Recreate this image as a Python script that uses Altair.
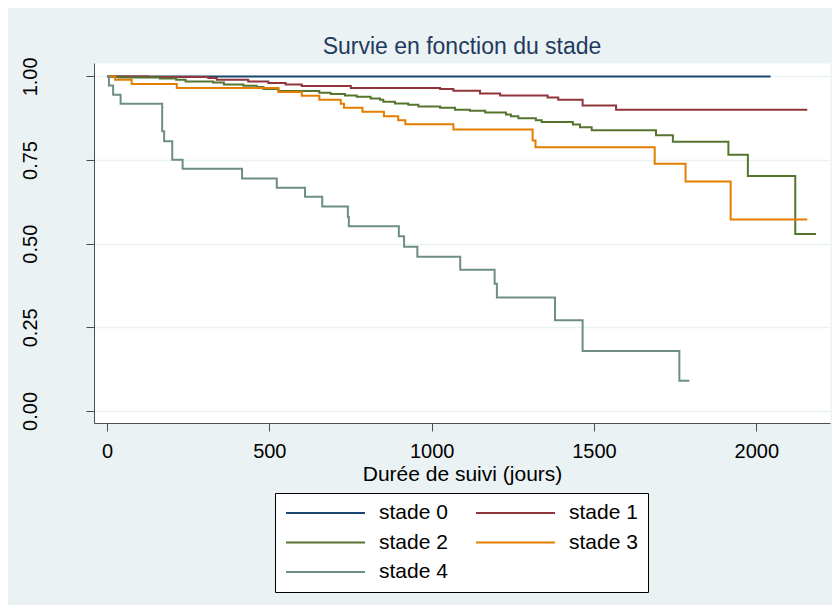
import altair as alt
import pandas as pd

# ---- data (time in days, survival probability) ----
stades = ["stade 0", "stade 1", "stade 2", "stade 3", "stade 4"]
colors = ["#1A476F", "#90353B", "#55752F", "#E37E00", "#6E8E84"]

s0_t = []
s0_s = []
s0_end = 2044

s1_t = [127, 312, 338, 435, 497, 550, 600, 751, 1026, 1067, 1149, 1211, 1357, 1390, 1465, 1568]
s1_s = [0.998, 0.995, 0.990, 0.985, 0.980, 0.976, 0.971, 0.965, 0.962, 0.957, 0.949, 0.943, 0.937, 0.930, 0.913, 0.900]
s1_end = 2157

s2_t = [35, 163, 213, 242, 327, 360, 420, 461, 482, 528,
        654, 689, 733, 769, 812, 841, 851, 887, 928, 959,
        1026, 1072, 1118, 1165, 1229, 1244, 1267, 1321, 1339, 1435,
        1457, 1493, 1691, 1743, 1914, 1974, 2120]
s2_s = [0.997, 0.994, 0.990, 0.985, 0.982, 0.976, 0.972, 0.968, 0.962, 0.956,
        0.951, 0.947, 0.943, 0.939, 0.934, 0.930, 0.924, 0.919, 0.915, 0.910,
        0.906, 0.900, 0.897, 0.892, 0.886, 0.881, 0.875, 0.869, 0.864, 0.856,
        0.848, 0.839, 0.824, 0.805, 0.766, 0.702, 0.529]
s2_end = 2184

s3_t = [25, 76, 215, 528, 600, 654, 720, 730, 787, 853, 897, 919, 1067, 1311, 1320, 1687, 1782, 1921]
s3_s = [0.990, 0.977, 0.965, 0.953, 0.942, 0.930, 0.918, 0.906, 0.894, 0.881, 0.869, 0.857, 0.841, 0.808, 0.788, 0.739, 0.686, 0.572]
s3_end = 2157

s4_t = [6, 19, 42, 170, 176, 201, 233, 416, 523, 610, 663, 742, 745, 899, 915, 956, 1088, 1194, 1201, 1380, 1465, 1763]
s4_s = [0.973, 0.945, 0.918, 0.836, 0.806, 0.751, 0.724, 0.695, 0.667, 0.640, 0.611, 0.580, 0.552, 0.522, 0.491, 0.461, 0.422, 0.380, 0.339, 0.271, 0.179, 0.0906]
s4_end = 1794

x_ticks = [0, 500, 1000, 1500, 2000]
y_ticks = [0, 0.25, 0.5, 0.75, 1.0]

series = [
    ("stade 0", s0_t, s0_s, s0_end),
    ("stade 1", s1_t, s1_s, s1_end),
    ("stade 2", s2_t, s2_s, s2_end),
    ("stade 3", s3_t, s3_s, s3_end),
    ("stade 4", s4_t, s4_s, s4_end),
]

rows = []
for name, ts, ss, end in series:
    k = 0
    rows.append({"stade": name, "t": 0, "s": 1.0, "k": k})
    for t, s in zip(ts, ss):
        k += 1
        rows.append({"stade": name, "t": t, "s": s, "k": k})
    k += 1
    rows.append({"stade": name, "t": end, "s": ss[-1] if ss else 1.0, "k": k})
df = pd.DataFrame(rows)

FONT = "Liberation Sans"

chart = alt.Chart(df).mark_line(interpolate="step-after", strokeWidth=2).encode(
    x=alt.X(
        "t:Q",
        scale=alt.Scale(domain=[-40, 2227], nice=False, zero=False),
        axis=alt.Axis(
            values=x_ticks, format="d", grid=False,
            title="Durée de suivi (jours)",
            titleFont=FONT, titleFontSize=21, titleFontWeight="normal", titleColor="#000000",
            titlePadding=2,
            labelFont=FONT, labelFontSize=20, labelColor="#000000", labelPadding=10,
            tickSize=8, tickColor="#4d4d4d", domainColor="#4d4d4d",
        ),
    ),
    y=alt.Y(
        "s:Q",
        scale=alt.Scale(domain=[-0.036, 1.04], nice=False, zero=False),
        axis=alt.Axis(
            values=y_ticks, format=".2f", grid=True, gridColor="#EAF2F3", gridWidth=1.5,
            title=None,
            labelFont=FONT, labelFontSize=20, labelColor="#000000",
            labelAngle=270, labelAlign="center", labelBaseline="alphabetic", labelPadding=50,
            tickSize=8, tickColor="#4d4d4d", domainColor="#4d4d4d",
        ),
    ),
    color=alt.Color(
        "stade:N",
        title=None,
        scale=alt.Scale(domain=stades, range=colors),
        legend=alt.Legend(
            orient="none", legendX=181, legendY=430, direction="horizontal",
            columns=2, columnPadding=27, rowPadding=8.5,
            symbolType="stroke", symbolSize=6241, symbolStrokeWidth=2,
            clipHeight=20, labelOffset=13, symbolOffset=0,
            labelFont=FONT, labelFontSize=21, labelColor="#000000",
            fillColor="white", strokeColor="#000000", padding=10, cornerRadius=0,
        ),
    ),
    order="k:Q",
).properties(
    width=736,
    height=360,
    autosize=alt.AutoSizeParams(type="none"),
    padding={"left": 86, "top": 55, "right": 2, "bottom": 182},
    background="#EAF2F3",
    title=alt.TitleParams(
        "Survie en fonction du stade",
        font=FONT, fontSize=23, fontWeight="normal", color="#1F3A5F",
        anchor="middle", baseline="alphabetic", offset=8, dy=28,
    ),
).configure_view(fill="white", stroke="transparent")

chart.save("out.html", embed_options={"renderer": "svg", "actions": False})
